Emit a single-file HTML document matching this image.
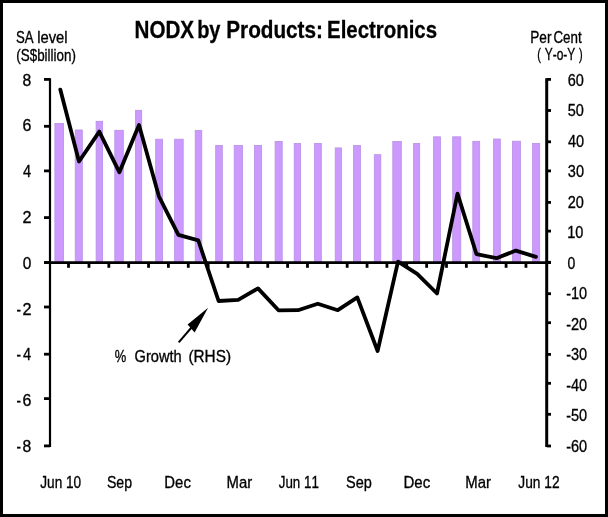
<!DOCTYPE html><html><head><meta charset="utf-8"><title>NODX by Products: Electronics</title><style>html,body{margin:0;padding:0;background:#fff;}svg{display:block;will-change:transform;}text{font-family:"Liberation Sans",Arial,sans-serif;font-kerning:none;fill:#000;stroke:#000;}text.r{stroke-width:0.32px;}text.b{font-weight:bold;stroke-width:0.3px;}</style></head><body>
<svg width="608" height="517" viewBox="0 0 608 517">
<rect x="0" y="0" width="608" height="517" fill="#fff"/>
<g fill="#CC99FF" stroke="#B88FE6" stroke-width="0.8">
<rect x="54.90" y="123.40" width="8.60" height="139.20"/>
<rect x="75.20" y="130.00" width="7.10" height="132.60"/>
<rect x="96.10" y="121.30" width="6.50" height="141.30"/>
<rect x="114.80" y="130.30" width="8.50" height="132.30"/>
<rect x="135.60" y="110.30" width="6.10" height="152.30"/>
<rect x="155.70" y="139.20" width="6.90" height="123.40"/>
<rect x="174.60" y="139.20" width="8.60" height="123.40"/>
<rect x="195.20" y="130.50" width="6.60" height="132.10"/>
<rect x="215.70" y="145.50" width="6.60" height="117.10"/>
<rect x="234.20" y="145.50" width="8.40" height="117.10"/>
<rect x="254.40" y="145.50" width="7.20" height="117.10"/>
<rect x="275.10" y="141.40" width="7.10" height="121.20"/>
<rect x="294.20" y="143.50" width="6.40" height="119.10"/>
<rect x="314.50" y="143.50" width="6.80" height="119.10"/>
<rect x="335.20" y="147.90" width="6.30" height="114.70"/>
<rect x="353.60" y="145.50" width="6.80" height="117.10"/>
<rect x="374.30" y="154.70" width="6.50" height="107.90"/>
<rect x="392.80" y="141.40" width="8.50" height="121.20"/>
<rect x="413.60" y="143.50" width="6.10" height="119.10"/>
<rect x="433.60" y="136.80" width="6.80" height="125.80"/>
<rect x="452.70" y="136.80" width="8.10" height="125.80"/>
<rect x="472.80" y="141.30" width="6.90" height="121.30"/>
<rect x="493.60" y="139.00" width="6.70" height="123.60"/>
<rect x="512.40" y="141.20" width="8.00" height="121.40"/>
<rect x="532.60" y="143.40" width="7.10" height="119.20"/>
</g>
<g stroke="#000" fill="none">
<line x1="50" y1="78.20" x2="50" y2="447.10" stroke-width="2.2"/>
<line x1="546.7" y1="78.20" x2="546.7" y2="447.10" stroke-width="3"/>
<line x1="44" y1="79.40" x2="50" y2="79.40" stroke-width="2.8"/>
<line x1="44" y1="126.30" x2="50" y2="126.30" stroke-width="2.8"/>
<line x1="44" y1="170.90" x2="50" y2="170.90" stroke-width="2.8"/>
<line x1="44" y1="217.60" x2="50" y2="217.60" stroke-width="2.8"/>
<line x1="44" y1="262.50" x2="50" y2="262.50" stroke-width="2.8"/>
<line x1="44" y1="307.00" x2="50" y2="307.00" stroke-width="2.8"/>
<line x1="44" y1="354.20" x2="50" y2="354.20" stroke-width="2.8"/>
<line x1="44" y1="398.60" x2="50" y2="398.60" stroke-width="2.8"/>
<line x1="44" y1="445.90" x2="50" y2="445.90" stroke-width="2.8"/>
<line x1="546.7" y1="79.40" x2="551" y2="79.40" stroke-width="2.8"/>
<line x1="546.7" y1="110.50" x2="551" y2="110.50" stroke-width="2.8"/>
<line x1="546.7" y1="141.80" x2="551" y2="141.80" stroke-width="2.8"/>
<line x1="546.7" y1="170.90" x2="551" y2="170.90" stroke-width="2.8"/>
<line x1="546.7" y1="202.40" x2="551" y2="202.40" stroke-width="2.8"/>
<line x1="546.7" y1="231.10" x2="551" y2="231.10" stroke-width="2.8"/>
<line x1="546.7" y1="262.30" x2="551" y2="262.30" stroke-width="2.8"/>
<line x1="546.7" y1="293.70" x2="551" y2="293.70" stroke-width="2.8"/>
<line x1="546.7" y1="322.70" x2="551" y2="322.70" stroke-width="2.8"/>
<line x1="546.7" y1="354.40" x2="551" y2="354.40" stroke-width="2.8"/>
<line x1="546.7" y1="383.30" x2="551" y2="383.30" stroke-width="2.8"/>
<line x1="546.7" y1="414.30" x2="551" y2="414.30" stroke-width="2.8"/>
<line x1="546.7" y1="446.00" x2="551" y2="446.00" stroke-width="2.8"/>
<line x1="44" y1="262.6" x2="551" y2="262.6" stroke-width="2.6"/>
<line x1="68.50" y1="262.6" x2="68.50" y2="267.8" stroke-width="2.8"/>
<line x1="88.97" y1="262.6" x2="88.97" y2="267.8" stroke-width="2.8"/>
<line x1="108.83" y1="262.6" x2="108.83" y2="267.8" stroke-width="2.8"/>
<line x1="128.69" y1="262.6" x2="128.69" y2="267.8" stroke-width="2.8"/>
<line x1="148.55" y1="262.6" x2="148.55" y2="267.8" stroke-width="2.8"/>
<line x1="168.42" y1="262.6" x2="168.42" y2="267.8" stroke-width="2.8"/>
<line x1="188.28" y1="262.6" x2="188.28" y2="267.8" stroke-width="2.8"/>
<line x1="208.14" y1="262.6" x2="208.14" y2="267.8" stroke-width="2.8"/>
<line x1="228.01" y1="262.6" x2="228.01" y2="267.8" stroke-width="2.8"/>
<line x1="247.87" y1="262.6" x2="247.87" y2="267.8" stroke-width="2.8"/>
<line x1="267.73" y1="262.6" x2="267.73" y2="267.8" stroke-width="2.8"/>
<line x1="287.60" y1="262.6" x2="287.60" y2="267.8" stroke-width="2.8"/>
<line x1="307.46" y1="262.6" x2="307.46" y2="267.8" stroke-width="2.8"/>
<line x1="327.32" y1="262.6" x2="327.32" y2="267.8" stroke-width="2.8"/>
<line x1="347.19" y1="262.6" x2="347.19" y2="267.8" stroke-width="2.8"/>
<line x1="367.05" y1="262.6" x2="367.05" y2="267.8" stroke-width="2.8"/>
<line x1="386.91" y1="262.6" x2="386.91" y2="267.8" stroke-width="2.8"/>
<line x1="406.77" y1="262.6" x2="406.77" y2="267.8" stroke-width="2.8"/>
<line x1="426.64" y1="262.6" x2="426.64" y2="267.8" stroke-width="2.8"/>
<line x1="446.50" y1="262.6" x2="446.50" y2="267.8" stroke-width="2.8"/>
<line x1="466.36" y1="262.6" x2="466.36" y2="267.8" stroke-width="2.8"/>
<line x1="486.23" y1="262.6" x2="486.23" y2="267.8" stroke-width="2.8"/>
<line x1="506.09" y1="262.6" x2="506.09" y2="267.8" stroke-width="2.8"/>
<line x1="525.95" y1="262.6" x2="525.95" y2="267.8" stroke-width="2.8"/>
</g>
<polyline points="60.30,89.60 79.00,161.50 99.30,131.60 119.40,172.30 139.00,125.00 158.90,196.30 178.40,234.80 198.30,240.40 218.60,301.00 238.20,299.80 258.00,288.40 278.50,310.30 298.00,310.20 317.80,303.70 337.80,310.20 357.30,297.40 377.60,351.00 398.00,261.70 417.20,273.80 437.00,293.50 457.50,193.60 476.50,254.20 496.50,258.20 515.80,250.60 535.90,256.90" fill="none" stroke="#000" stroke-width="3.8" stroke-linejoin="round" stroke-linecap="round"/>
<line x1="178.7" y1="342.4" x2="191.5" y2="327.5" stroke="#000" stroke-width="2"/>
<polygon points="208.1,307.7 187.6,324.6 194.6,332.4" fill="#000"/>
<text class="b" transform="translate(134.56,37.50) scale(0.8593,1)" font-size="24">NODX</text>
<text class="b" transform="translate(197.15,37.50) scale(0.8333,1)" font-size="24">by</text>
<text class="b" transform="translate(226.25,37.50) scale(0.8639,1)" font-size="24">Products:</text>
<text class="b" transform="translate(327.07,37.50) scale(0.8503,1)" font-size="24">Electronics</text>
<text class="r" transform="translate(16.07,42.50) scale(0.8243,1)" font-size="16">SA</text>
<text class="r" transform="translate(37.16,42.50) scale(0.9259,1)" font-size="16">level</text>
<text class="r" transform="translate(16.32,60.70) scale(0.8374,1)" font-size="16">(S$billion)</text>
<text class="r" transform="translate(530.23,42.60) scale(0.8525,1)" font-size="16">Per</text>
<text class="r" transform="translate(553.39,42.60) scale(0.8358,1)" font-size="16">Cent</text>
<text class="r" transform="translate(537.27,60.10) scale(0.6857,1)" font-size="16">(</text>
<text class="r" transform="translate(544.69,60.10) scale(0.7483,1)" font-size="16">Y-o-Y</text>
<text class="r" transform="translate(579.08,60.10) scale(0.6857,1)" font-size="16">)</text>
<text class="r" transform="translate(22.59,85.50) scale(0.9516,1)" font-size="16.5">8</text>
<text class="r" transform="translate(22.46,131.31) scale(0.9671,1)" font-size="16.5">6</text>
<text class="r" transform="translate(22.93,177.12) scale(0.8857,1)" font-size="16.5">4</text>
<text class="r" transform="translate(22.45,222.94) scale(0.9830,1)" font-size="16.5">2</text>
<text class="r" transform="translate(22.64,268.75) scale(0.9367,1)" font-size="16.5">0</text>
<text class="r" transform="translate(22.45,314.56) scale(0.9830,1)" font-size="16.5">2</text>
<text class="r" transform="translate(16.55,314.56) scale(0.8197,1)" font-size="16.5">-</text>
<text class="r" transform="translate(22.93,360.38) scale(0.8857,1)" font-size="16.5">4</text>
<text class="r" transform="translate(16.55,360.38) scale(0.8197,1)" font-size="16.5">-</text>
<text class="r" transform="translate(22.46,406.19) scale(0.9671,1)" font-size="16.5">6</text>
<text class="r" transform="translate(16.55,406.19) scale(0.8197,1)" font-size="16.5">-</text>
<text class="r" transform="translate(22.59,452.00) scale(0.9516,1)" font-size="16.5">8</text>
<text class="r" transform="translate(16.55,452.00) scale(0.8197,1)" font-size="16.5">-</text>
<text class="r" transform="translate(567.63,85.50) scale(0.8800,1)" font-size="16.5">60</text>
<text class="r" transform="translate(567.78,116.04) scale(0.8800,1)" font-size="16.5">50</text>
<text class="r" transform="translate(568.03,146.58) scale(0.8800,1)" font-size="16.5">40</text>
<text class="r" transform="translate(567.82,177.12) scale(0.8800,1)" font-size="16.5">30</text>
<text class="r" transform="translate(567.63,207.67) scale(0.8800,1)" font-size="16.5">20</text>
<text class="r" transform="translate(567.27,238.21) scale(0.8800,1)" font-size="16.5">10</text>
<text class="r" transform="translate(567.50,268.75) scale(0.8479,1)" font-size="16.5">0</text>
<text class="r" transform="translate(566.21,299.29) scale(0.8800,1)" font-size="16.5">-10</text>
<text class="r" transform="translate(566.21,329.83) scale(0.8800,1)" font-size="16.5">-20</text>
<text class="r" transform="translate(566.21,360.38) scale(0.8800,1)" font-size="16.5">-30</text>
<text class="r" transform="translate(566.21,390.92) scale(0.8800,1)" font-size="16.5">-40</text>
<text class="r" transform="translate(566.21,421.46) scale(0.8800,1)" font-size="16.5">-50</text>
<text class="r" transform="translate(566.21,452.00) scale(0.8800,1)" font-size="16.5">-60</text>
<text class="r" transform="translate(40.26,487.70) scale(0.8275,1)" font-size="16.5">Jun 10</text>
<text class="r" transform="translate(106.93,487.70) scale(0.8551,1)" font-size="16.5">Sep</text>
<text class="r" transform="translate(164.33,487.70) scale(0.9043,1)" font-size="16.5">Dec</text>
<text class="r" transform="translate(226.53,487.70) scale(0.9018,1)" font-size="16.5">Mar</text>
<text class="r" transform="translate(278.76,487.70) scale(0.8097,1)" font-size="16.5">Jun 11</text>
<text class="r" transform="translate(346.11,487.70) scale(0.8802,1)" font-size="16.5">Sep</text>
<text class="r" transform="translate(403.52,487.70) scale(0.9115,1)" font-size="16.5">Dec</text>
<text class="r" transform="translate(465.33,487.70) scale(0.9055,1)" font-size="16.5">Mar</text>
<text class="r" transform="translate(518.35,487.70) scale(0.8331,1)" font-size="16.5">Jun 12</text>
<text class="r" transform="translate(114.81,362.40) scale(0.8089,1)" font-size="16">%</text>
<text class="r" transform="translate(134.53,362.40) scale(0.9147,1)" font-size="16">Growth</text>
<text class="r" transform="translate(188.40,362.40) scale(0.9609,1)" font-size="16">(RHS)</text>
<rect x="1.5" y="1.5" width="605" height="514" fill="none" stroke="#000" stroke-width="3"/>
</svg></body></html>
